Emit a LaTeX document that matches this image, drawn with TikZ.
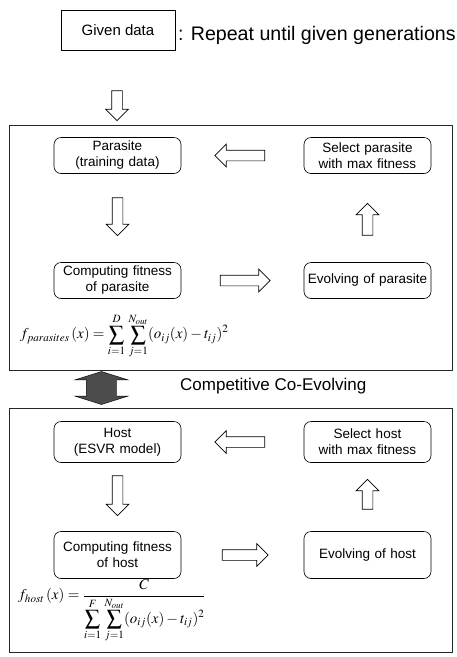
\documentclass[tikz,border=0pt]{standalone}
\usepackage{mathptmx}
\usepackage[no-math]{fontspec}
\setmainfont{Liberation Sans}
\usetikzlibrary{shapes.arrows,calc}
\tikzstyle{source} = [rectangle, draw=black, line width=0.6pt, minimum width=114pt, minimum height=40pt, font=\fontsize{15}{18}\selectfont]
\tikzstyle{stage} = [rectangle, rounded corners=7pt, draw=black, line width=0.6pt, text width=121pt, inner sep=3pt, text centered, minimum height=36pt, font=\fontsize{13.5}{16}\selectfont]
\tikzstyle{note} = [font=\fontsize{19.6}{22}\selectfont, inner sep=0pt]
\tikzstyle{hollow} = [single arrow, draw=black, line width=0.7pt, inner sep=5pt, single arrow head extend=6pt]
\tikzstyle{coevolve} = [double arrow, draw=black, fill=black!70, inner xsep=0pt, inner ysep=15pt, double arrow head extend=11.5pt, double arrow tip angle=145, minimum height=33pt, rotate=90]
\tikzstyle{frame} = [draw=black!85, line width=0.6pt]
\tikzstyle{formula} = [font=\fontsize{15}{18}\selectfont, inner sep=0pt, anchor=west]

\begin{document}
\begin{tikzpicture}[x=1pt, y=1pt, node distance=125pt]
    \useasboundingbox (0,0) rectangle (457,-657);

    \node(given)[source] at (118,-30) {Given data};
    \node(repeat)[note, anchor=west] at (178,-35) {: Repeat until given generations};
    \node(feed)[hollow, rotate=-90, minimum height=30pt] at (117,-103) {};

    % parasite population
    \draw[frame] (9,-125) rectangle (452,-370);
    \node(parasite)[stage] at (117.5,-155.5) {Parasite\\(training data)};
    \node(selpar)[stage, right of=parasite, node distance=250pt] {Select parasite\\with max fitness};
    \node(fitpar)[stage, below of=parasite] {Computing fitness\\of parasite};
    \node(evopar)[stage, below of=selpar] {Evolving of parasite};

    \node(selpar2parasite)[hollow, rotate=180, minimum height=50pt] at ($(parasite.east)!0.5!(selpar.west)$) {};
    \node(parasite2fitpar)[hollow, rotate=-90, minimum height=38pt, xshift=-4pt] at ($(parasite.south)!0.5!(fitpar.north)$) {};
    \node(fitpar2evopar)[hollow, minimum height=50pt] at ($(fitpar.east)!0.5!(evopar.west)$) {};
    \node(evopar2selpar)[hollow, rotate=90, minimum height=32pt, xshift=-4pt] at ($(evopar.north)!0.5!(selpar.south)$) {};

    \node(fpar)[formula] at (20,-336) {$f_{parasites}\,(x)=\displaystyle\sum_{i=1}^{D}\,\sum_{j=1}^{N_{out}}(o_{ij}(x)-t_{ij})^2$};

    % competition
    \node(coevo)[coevolve] at (101.5,-388) {};
    \node(colabel)[note, anchor=west, font=\fontsize{17}{20}\selectfont] at (180,-386) {Competitive Co-Evolving};

    % host population
    \draw[frame] (9,-408) rectangle (452,-652);
    \node(host)[stage, minimum height=41pt] at (117.5,-442) {Host\\(ESVR model)};
    \node(selhost)[stage, minimum height=41pt, right of=host, node distance=250pt] {Select host\\with max fitness};
    \node(fithost)[stage, minimum height=47pt, below of=host, node distance=113pt] {Computing fitness\\of host};
    \node(evohost)[stage, minimum height=47pt, below of=selhost, node distance=113pt] {Evolving of host};

    \node(selhost2host)[hollow, rotate=180, minimum height=50pt] at ($(host.east)!0.5!(selhost.west)$) {};
    \node(host2fithost)[hollow, rotate=-90, minimum height=40pt, xshift=-4pt] at ($(host.south)!0.5!(fithost.north)$) {};
    \node(fithost2evohost)[hollow, minimum height=46pt] at ($(fithost.east)!0.5!(evohost.west)$) {};
    \node(evohost2selhost)[hollow, rotate=90, minimum height=30pt] at ($(evohost.north)!0.5!(selhost.south)$) {};

    \node(fhost)[formula] at (18,-611) {$f_{host}\,(x)=\displaystyle\frac{C}{\displaystyle\sum_{i=1}^{F}\,\sum_{j=1}^{N_{out}}(o_{ij}(x)-t_{ij})^2}$};

\end{tikzpicture}
\end{document}
